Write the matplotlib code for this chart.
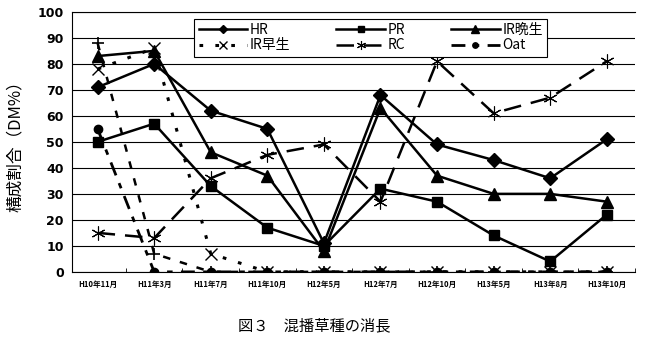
import matplotlib
matplotlib.use("Agg")
import matplotlib.pyplot as plt
from matplotlib.ticker import MultipleLocator, FixedLocator

plt.rcParams['font.family'] = ['Noto Sans CJK JP', 'DejaVu Sans']

categories = ["H10年11月", "H11年3月", "H11年7月", "H11年10月", "H12年5月",
              "H12年7月", "H12年10月", "H13年5月", "H13年8月", "H13年10月"]
hr = [71, 80, 62, 55, 11, 68, 49, 43, 36, 51]
pr = [50, 57, 33, 17, 10, 32, 27, 14, 4, 22]
ir_late = [83, 85, 46, 37, 8, 63, 37, 30, 30, 27]
ir_early = [78, 86, 7, 0, 0, 0, 0, 0, 0, 0]
rc = [15, 13, 36, 45, 49, 27, 81, 61, 67, 81]
oat = [55, 0, 0, 0, 0, 0, 0, 0, 0, 0]
extra = [88, 7, 0, 0, 0, 0, 0, 0, 0, 0]

fig = plt.figure(figsize=(6.5, 3.49), dpi=100)
ax = fig.add_axes([0.111, 0.221, 0.866, 0.745])
x = list(range(len(categories)))

ax.plot(x, extra, color='black', lw=1.8, ls=(0, (3, 4)), marker='+', ms=9,
        mew=1.2, label='_nolegend_', zorder=3)
ax.plot(x, oat, color='black', lw=2, ls=(0, (5, 3, 2, 3)), marker='o', ms=6,
        label='Oat', zorder=3)
ax.plot(x, ir_early, color='black', lw=2.2, ls=(0, (1.2, 4)), marker='x', ms=8,
        mew=1.0, label='IR早生', zorder=3)
ax.plot(x, rc, color='black', lw=1.8, ls=(0, (7, 4)), marker=(6, 2, 0), ms=10,
        mew=0.8, label='RC', zorder=3)
ax.plot(x, hr, color='black', lw=1.8, marker='D', ms=7, label='HR', zorder=4)
ax.plot(x, pr, color='black', lw=1.8, marker='s', ms=7, label='PR', zorder=4)
ax.plot(x, ir_late, color='black', lw=1.8, marker='^', ms=8, label='IR晩生', zorder=4)

ax.set_xlim(-0.45, len(categories) - 0.5)
ax.set_ylim(0, 100)
ax.yaxis.set_major_locator(MultipleLocator(10))
ax.grid(axis='y', color='black', lw=0.8)
ax.set_axisbelow(True)
ax.spines['right'].set_visible(False)
ax.spines['top'].set_linewidth(0.8)
ax.spines['left'].set_linewidth(0.8)
ax.spines['bottom'].set_linewidth(0.8)

ax.set_xticks(x)
ax.set_xticklabels(categories, fontsize=5.5, fontweight='bold')
ax.tick_params(axis='x', length=0, pad=6)
ax.xaxis.set_minor_locator(FixedLocator([i + 0.5 for i in range(-1, len(categories))]))
ax.tick_params(axis='x', which='minor', length=3, direction='in')
ax.tick_params(axis='y', length=0, pad=6)
for t in ax.get_yticklabels():
    t.set_fontweight('bold')
    t.set_fontsize(9)
    t.set_family(['DejaVu Sans'])

ax.set_ylabel('構成割合（DM%）', fontsize=12, labelpad=10)

handles, labels = ax.get_legend_handles_labels()
lut = dict(zip(labels, handles))
order = ['HR', 'IR早生', 'PR', 'RC', 'IR晩生', 'Oat']
leg = ax.legend([lut[k] for k in order], order, ncol=3, loc='upper left',
                bbox_to_anchor=(0.205, 1.0), fontsize=10, frameon=True,
                fancybox=False, edgecolor='black', framealpha=1,
                handlelength=3.5, handletextpad=0.2, columnspacing=3.3,
                borderpad=0.3, labelspacing=0.1, markerscale=0.65)
leg.get_frame().set_linewidth(0.8)

fig.text(0.483, 0.068, '図３　混播草種の消長', ha='center', va='center', fontsize=11)

fig.savefig('out.png', dpi=100)
